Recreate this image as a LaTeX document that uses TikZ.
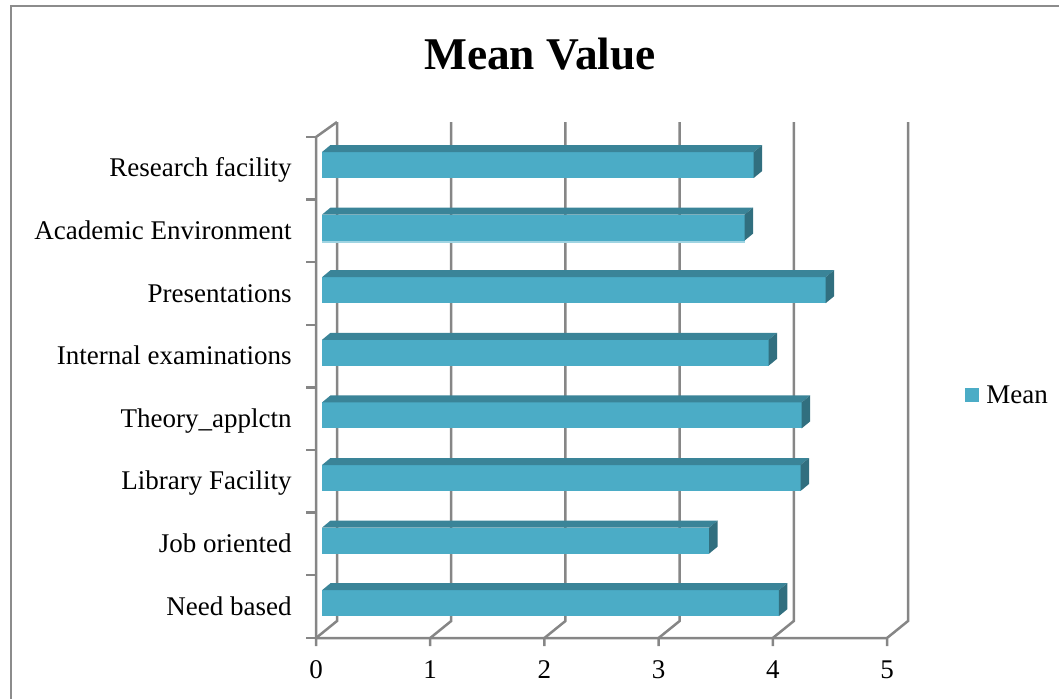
\documentclass[tikz,border=0pt]{standalone}
\usepackage{fontspec}
\setmainfont{Liberation Serif}
\usepackage{tikz}
\definecolor{barfront}{RGB}{75,172,198}
\definecolor{bartop}{RGB}{58,132,152}
\definecolor{barside}{RGB}{49,111,127}
\definecolor{barlight}{RGB}{160,212,226}
\definecolor{wallgray}{RGB}{134,134,134}
\definecolor{framegray}{RGB}{140,140,140}
\tikzset{
    wall/.style={draw=wallgray, line width=1.25pt},
    catlabel/.style={anchor=base east, inner sep=0pt, font=\fontsize{13.5}{16}\selectfont},
    numlabel/.style={anchor=base, inner sep=0pt, font=\fontsize{13.5}{16}\selectfont},
    charttitle/.style={anchor=base, inner sep=0pt, font=\bfseries\fontsize{22.7}{27}\selectfont}}

\begin{document}
\begin{tikzpicture}[x=0.5pt, y=-0.5pt]

            \useasboundingbox (0,0) rectangle (1059,698);
            \draw[framegray, line width=1.25pt] (11,6) rectangle (1075,715);

            \node[charttitle] (title) at (540,69) {Mean Value};

            \draw[wall] (337,122) -- (316,137) -- (316,638) -- (887,638);
            \foreach \i in {0,...,8}
                \draw[wall] (306,{137+62.6*\i}) -- (316,{137+62.6*\i});
            \foreach \k in {0,...,5} {
                \pgfmathsetmacro{\xf}{316+114.2*\k}
                \pgfmathsetmacro{\xb}{337+114.2*\k}
                \draw[wall] (\xf,646) -- (\xf,638) -- (\xb,621) -- (\xb,122);
                \node[numlabel] (num\k) at (\xf,678) {\k};
            }

            \foreach \i/\name/\val in {0/Research facility/3.78, 1/Academic Environment/3.70,
                    2/Presentations/4.41, 3/Internal examinations/3.91, 4/Theory\_applctn/4.20,
                    5/Library Facility/4.19, 6/Job oriented/3.39, 7/Need based/4.00} {
                \pgfmathsetmacro{\yt}{137+62.6*\i+15}
                \pgfmathsetmacro{\yb}{\yt+26}
                \pgfmathsetmacro{\xe}{322+114.2*\val}
                \fill[barfront] (322,\yt) rectangle (\xe,\yb);
                \fill[bartop] (322,\yt) -- (330.5,\yt-7) -- (\xe+8.5,\yt-7) -- (\xe,\yt) -- cycle;
                \fill[barside] (\xe,\yt) -- (\xe+8.5,\yt-7) -- (\xe+8.5,\yb-7) -- (\xe,\yb) -- cycle;
                \node[catlabel] (cat\i) at (292,{137+62.6*(\i+0.5)+8.5}) {\name};
            }
            \fill[barlight] (322,240.6) rectangle (744.5,242.6);

            \node[fill=barfront, minimum size=7pt, inner sep=0pt] (key) at (972,395) {};
            \node[numlabel, anchor=base west] (mean) at (986,403) {Mean};

        \end{tikzpicture}
\end{document}
